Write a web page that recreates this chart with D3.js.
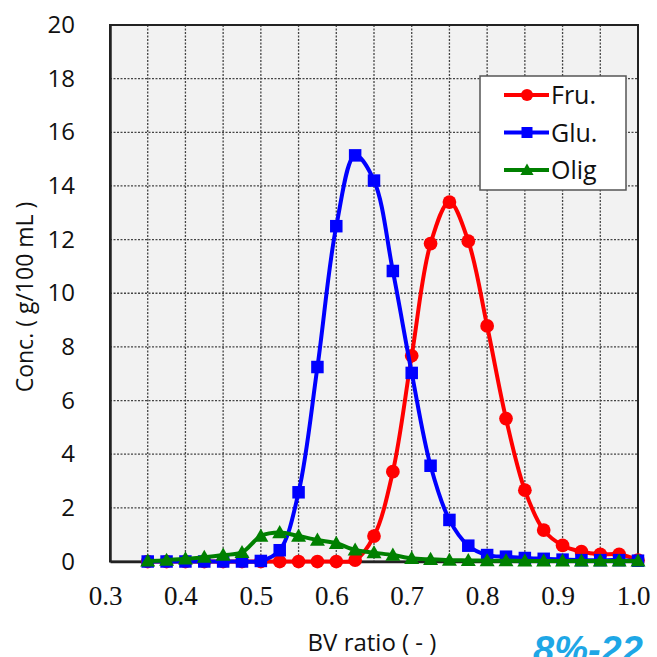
<!DOCTYPE html>
<html>
<head>
<meta charset="utf-8">
<style>
  html, body { margin: 0; padding: 0; background: #fff; }
  svg { display: block; }
</style>
</head>
<body>

<script src="https://d3js.org/d3.v7.min.js"></script>
<script>

const width = 657;
const height = 657;

// BV ratio sampling points 0.35 .. 1.0 step 0.025
const bvRatio = [0.35, 0.375, 0.40, 0.425, 0.45, 0.475, 0.50, 0.525, 0.55, 0.575,
                 0.60, 0.625, 0.65, 0.675, 0.70, 0.725, 0.75, 0.775, 0.80, 0.825,
                 0.85, 0.875, 0.90, 0.925, 0.95, 0.975, 1.0];

const fru = [0, 0, 0, 0, 0, 0, 0, 0, 0, 0,
             0, 0.05, 0.95, 3.35, 7.67, 11.85, 13.4, 11.94, 8.78, 5.33,
             2.66, 1.17, 0.6, 0.37, 0.27, 0.27, 0.05];

const glu = [0, 0, 0, 0, 0, 0, 0.02, 0.42, 2.58, 7.25,
             12.5, 15.14, 14.2, 10.83, 7.03, 3.57, 1.55, 0.59, 0.24, 0.18,
             0.13, 0.1, 0.07, 0.05, 0.05, 0.05, 0.03];

const olig = [0.02, 0.05, 0.1, 0.16, 0.24, 0.34, 0.95, 1.08, 0.95, 0.8,
              0.68, 0.43, 0.33, 0.24, 0.12, 0.08, 0.05, 0.04, 0.03, 0.03,
              0.02, 0.02, 0.02, 0.02, 0.02, 0.02, 0.02];

const seriesNames = ['Fru.', 'Glu.', 'Olig'];
const seriesColors = ['#ff0000', '#0000ff', '#008000'];
const seriesShapes = ['circle', 'square', 'triangle'];

const xLabelTicks = [0.3, 0.4, 0.5, 0.6, 0.7, 0.8, 0.9, 1.0];
const xGridTicks = d3.range(0.35, 1.0, 0.05);
const yTicks = [0, 2, 4, 6, 8, 10, 12, 14, 16, 18, 20];

const plot = {left: 110, right: 638, top: 25, bottom: 561.5};

const x = d3.scaleLinear().domain([0.3, 1.0]).range([plot.left, plot.right]);
const y = d3.scaleLinear().domain([0, 20]).range([plot.bottom, plot.top]);

const svg = d3.select('body')
              .append('svg')
              .attr('width', width)
              .attr('height', height);

// plot background
svg.append('rect')
   .attr('x', plot.left)
   .attr('y', plot.top)
   .attr('width', plot.right - plot.left)
   .attr('height', plot.bottom - plot.top)
   .attr('fill', '#f2f2f2');

// grid
svg.append('g')
   .selectAll('line')
   .data(yTicks.slice(1, -1))
   .enter()
   .append('line')
   .attr('x1', plot.left)
   .attr('x2', plot.right)
   .attr('y1', d => y(d))
   .attr('y2', d => y(d))
   .attr('stroke', '#444')
   .attr('stroke-width', 1.3)
   .attr('stroke-dasharray', '2,1.5');

svg.append('g')
   .selectAll('line')
   .data(xGridTicks)
   .enter()
   .append('line')
   .attr('x1', d => x(d))
   .attr('x2', d => x(d))
   .attr('y1', plot.top)
   .attr('y2', plot.bottom)
   .attr('stroke', '#444')
   .attr('stroke-width', 1.3)
   .attr('stroke-dasharray', '2,1.5');

// plot border
svg.append('rect')
   .attr('x', plot.left)
   .attr('y', plot.top)
   .attr('width', plot.right - plot.left)
   .attr('height', plot.bottom - plot.top)
   .attr('fill', 'none')
   .attr('stroke', '#222')
   .attr('stroke-width', 2);

// y axis
const yAxis = d3.axisLeft(y)
                .tickValues(yTicks)
                .tickSize(0)
                .tickPadding(35);

svg.append('g')
   .attr('transform', `translate(${plot.left},0)`)
   .call(yAxis)
   .call(g => g.select('.domain').attr('stroke', '#222').attr('stroke-width', 2.5))
   .call(g => g.selectAll('text')
               .attr('font-family', '"Open Sans", sans-serif')
               .attr('font-size', 24)
               .attr('fill', '#111'));

// x axis
const xAxis = d3.axisBottom(x)
                .tickValues(xLabelTicks)
                .tickSize(0)
                .tickPadding(24)
                .tickFormat(d3.format('.1f'));

svg.append('g')
   .attr('transform', `translate(0,${plot.bottom})`)
   .call(xAxis)
   .call(g => g.select('.domain').attr('stroke', '#222').attr('stroke-width', 2.5))
   .call(g => g.selectAll('text')
               .attr('dx', -5)
               .attr('font-family', '"Liberation Serif", serif')
               .attr('font-size', 27)
               .attr('fill', '#111'));

// axis titles
svg.append('text')
   .attr('transform', 'translate(33,297) rotate(-90)')
   .attr('text-anchor', 'middle')
   .attr('font-family', '"Open Sans", sans-serif')
   .attr('font-size', 23)
   .attr('fill', '#111')
   .text('Conc.  ( g/100 mL )');

svg.append('text')
   .attr('x', 372)
   .attr('y', 651)
   .attr('text-anchor', 'middle')
   .attr('font-family', '"Open Sans", sans-serif')
   .attr('font-size', 24)
   .attr('fill', '#111')
   .text('BV ratio ( - )');

// markers
const drawMarker = (sel, shape, color, s) => {
  if (shape === 'circle') {
    sel.append('circle').attr('r', s * 0.55).attr('fill', color);
  } else if (shape === 'square') {
    sel.append('rect')
       .attr('x', -s / 2).attr('y', -s / 2)
       .attr('width', s).attr('height', s)
       .attr('fill', color);
  } else {
    sel.append('path')
       .attr('d', `M0,${-s * 0.6}L${s * 0.6},${s * 0.45}L${-s * 0.6},${s * 0.45}Z`)
       .attr('fill', color);
  }
};

const allSeries = [fru, glu, olig];

const line = d3.line()
               .x(d => x(d[0]))
               .y(d => y(d[1]))
               .curve(d3.curveCatmullRom.alpha(0.5));

allSeries.forEach((vals, i) => {
  const pts = bvRatio.map((b, j) => [b, vals[j]]);
  const g = svg.append('g');
  g.append('path')
   .attr('d', line(pts))
   .attr('fill', 'none')
   .attr('stroke', seriesColors[i])
   .attr('stroke-width', 4);
  g.selectAll('g.pt')
   .data(pts)
   .enter()
   .append('g')
   .attr('class', 'pt')
   .attr('transform', d => `translate(${x(d[0])},${y(d[1])})`)
   .each(function () { drawMarker(d3.select(this), seriesShapes[i], seriesColors[i], 12.5); });
});

// legend
const legend = svg.append('g');
legend.append('rect')
      .attr('x', 480)
      .attr('y', 76)
      .attr('width', 146)
      .attr('height', 114)
      .attr('fill', '#fff')
      .attr('stroke', '#555')
      .attr('stroke-width', 1.5);

seriesNames.forEach((name, i) => {
  const ly = 95 + i * 37.5;
  legend.append('line')
        .attr('x1', 504).attr('x2', 549)
        .attr('y1', ly).attr('y2', ly)
        .attr('stroke', seriesColors[i])
        .attr('stroke-width', 4);
  const m = legend.append('g').attr('transform', `translate(527,${ly})`);
  drawMarker(m, seriesShapes[i], seriesColors[i], 11);
  legend.append('text')
        .attr('x', 551)
        .attr('y', ly + 9)
        .attr('font-family', '"Open Sans", sans-serif')
        .attr('font-size', 25)
        .attr('fill', '#111')
        .text(name);
});

// cut-off caption at bottom right
svg.append('text')
   .attr('x', 533)
   .attr('y', 663)
   .attr('font-family', '"Liberation Sans", sans-serif')
   .attr('font-size', 38)
   .attr('font-style', 'italic')
   .attr('font-weight', 'bold')
   .attr('fill', '#1ea7e6')
   .text('8%-22');

</script>
</body>
</html>
